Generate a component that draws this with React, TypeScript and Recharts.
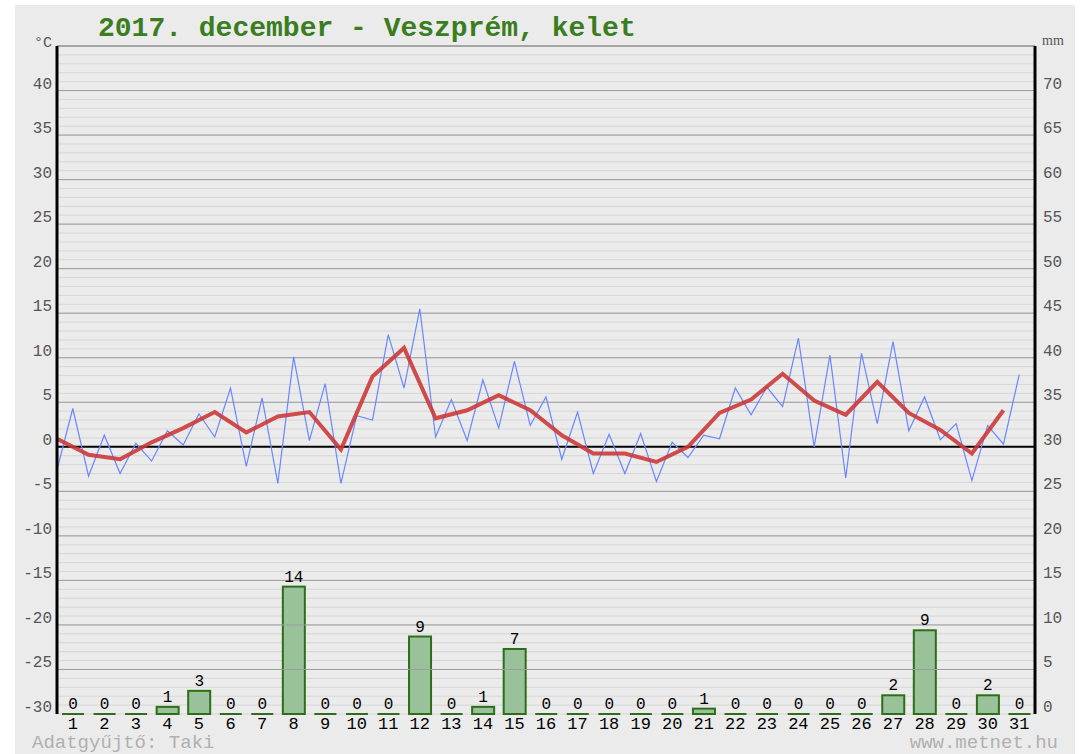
import { ComposedChart, Bar, Line, XAxis, YAxis, CartesianGrid, ReferenceLine, LabelList } from "recharts";

// Day numbers on the x axis
const dayLabels = Array.from({ length: 31 }, (_, i) => i + 1);

// Twice-daily temperature readings (°C), two per day
const halfDayTemp = [
  -2.6, 4.3, -3.3, 1.3, -3.0, 0.4, -1.6, 1.8, 0.2, 3.7,
  1.1, 6.6, -2.2, 5.5, -4.1, 10.1, 0.7, 7.1, -4.1, 3.5,
  3.0, 12.6, 6.6, 15.5, 1.1, 5.3, 0.7, 7.5, 2.1, 9.6,
  2.4, 5.6, -1.4, 3.9, -3.0, 1.4, -3.0, 1.5, -3.9, 0.5,
  -1.2, 1.3, 0.9, 6.6, 3.6, 6.7, 4.5, 12.2, 0.0, 10.3,
  -3.5, 10.5, 2.6, 11.8, 1.8, 5.6, 0.8, 2.6, -3.8, 2.4,
  0.3, 8.1,
];

// Daily mean temperature (°C)
const dailyMean = [
  0.9, -0.9, -1.4, 0.5, 2.1, 3.9, 1.6, 3.4, 3.9, -0.3,
  7.9, 11.1, 3.2, 4.1, 5.8, 4.1, 1.3, -0.75, -0.75, -1.7,
  0.0, 3.8, 5.3, 8.2, 5.2, 3.6, 7.3, 3.8, 1.9, -0.75, 4.1,
];

// Daily precipitation (mm)
const precipMm = [
  0, 0, 0, 0.8, 2.6, 0, 0, 14.3, 0, 0,
  0, 8.7, 0, 0.8, 7.3, 0, 0, 0, 0, 0,
  0.6, 0, 0, 0, 0, 0, 2.1, 9.4, 0, 2.1, 0,
];

const tempTicks = Array.from({ length: 76 }, (_, i) => i - 30);
const mmTicks = Array.from({ length: 16 }, (_, i) => i * 5);
const majorTemps = tempTicks.filter((v) => v % 5 === 0 && v !== 0 && v !== -30);

// bars sit in the middle of each day slot
const barRows = dayLabels.map((d, i) => ({ x: d - 0.5, p: precipMm[i] }));
// readings: two per day slot
const tempRows = halfDayTemp.map((t, i) => ({ x: i / 2, temp: t }));
// daily means: at the start of each day slot
const meanRows = dailyMean.map((m, i) => ({ x: i, mean: m }));

const MONO = "'Liberation Mono', 'Courier New', monospace";
const BAR_FILL = "#99c29a";
const BAR_STROKE = "#2f6e18";

const LeftTick = (props: any) => {
  const { x, y, payload } = props;
  const v = payload.value;
  if (v % 5 !== 0) return <g />;
  if (v === 45) {
    return (
      <text x={x} y={y + 1} textAnchor="end" fontSize={15} fontFamily={MONO} fill="#555">
        °C
      </text>
    );
  }
  return (
    <text x={x} y={y - 2} textAnchor="end" fontSize={16} fontFamily={MONO} fill="#555">
      {v}
    </text>
  );
};

const RightTick = (props: any) => {
  const { x, y, payload } = props;
  const v = payload.value;
  if (v === 75) {
    return (
      <text x={x - 1} y={y - 1} textAnchor="start" fontSize={14} fontFamily="'Liberation Serif', serif" fill="#555">
        mm
      </text>
    );
  }
  return (
    <text x={x} y={y - 2} textAnchor="start" fontSize={16} fontFamily={MONO} fill="#555">
      {v}
    </text>
  );
};

const BarShape = (props: any) => {
  const { x, y, width, height } = props;
  if (x == null || y == null || isNaN(y)) return null;
  if (!height || height < 1) {
    return <line x1={x} x2={x + width} y1={y} y2={y} stroke={BAR_STROKE} strokeWidth={2} />;
  }
  return <rect x={x} y={y} width={width} height={height} fill={BAR_FILL} stroke={BAR_STROKE} strokeWidth={2} />;
};

const BarLabel = (props: any) => {
  const { x, y, width, value } = props;
  if (value == null || isNaN(y)) return null;
  return (
    <text x={x + width / 2} y={y - 5} textAnchor="middle" fontSize={16} fontFamily={MONO} fill="#000">
      {Math.round(value)}
    </text>
  );
};

export default function App() {
  return (
    <div style={{ position: "absolute", left: 0, top: 0, width: 1082, height: 754, background: "#fff" }}>
      <div style={{ position: "absolute", left: 15, top: 5, width: 1060, height: 749, background: "#ebebeb" }} />
      <div style={{ position: "absolute", left: 0, top: 0 }}>
        <ComposedChart width={1082} height={754} data={barRows} margin={{ top: 46, right: 0, bottom: 10, left: 0 }}>
          <CartesianGrid xAxisId="bar" yAxisId="t" vertical={false} stroke="#d6d6d6" strokeWidth={1} />
          {majorTemps.map((v) => (
            <ReferenceLine key={v} xAxisId="bar" yAxisId="t" y={v} stroke="#9c9c9c" strokeWidth={1} />
          ))}
          <ReferenceLine xAxisId="bar" yAxisId="t" y={45} stroke="#9c9c9c" strokeWidth={1.5} />
          <XAxis
            xAxisId="bar"
            type="number"
            dataKey="x"
            domain={[0, 31]}
            ticks={dayLabels.map((d) => d - 0.5)}
            tickFormatter={(v: number) => String(v + 0.5)}
            interval={0}
            axisLine={false}
            tickLine={false}
            tickSize={0}
            tickMargin={3}
            height={30}
            tick={{ fill: "#000", fontSize: 17, fontFamily: MONO }}
          />
          <XAxis xAxisId="day" type="number" dataKey="x" domain={[0, 31]} height={0} hide />
          <YAxis
            yAxisId="t"
            domain={[-30, 45]}
            ticks={tempTicks}
            interval={0}
            width={57}
            tickSize={0}
            tickMargin={5}
            tickLine={false}
            axisLine={{ stroke: "#000", strokeWidth: 3 }}
            tick={LeftTick}
          />
          <YAxis
            yAxisId="mm"
            orientation="right"
            domain={[0, 75]}
            ticks={mmTicks}
            interval={0}
            width={47}
            tickSize={0}
            tickMargin={8}
            tickLine={false}
            axisLine={{ stroke: "#000", strokeWidth: 3 }}
            tick={RightTick}
          />
          <ReferenceLine xAxisId="bar" yAxisId="t" y={0} stroke="#000" strokeWidth={2} />
          <Bar xAxisId="bar" yAxisId="mm" dataKey="p" barSize={22} shape={BarShape} isAnimationActive={false}>
            <LabelList dataKey="p" content={BarLabel} />
          </Bar>
          <Line
            xAxisId="day"
            yAxisId="t"
            data={tempRows}
            dataKey="temp"
            type="linear"
            stroke="#6a87ff"
            strokeWidth={1.2}
            dot={false}
            activeDot={false}
            isAnimationActive={false}
          />
          <Line
            xAxisId="day"
            yAxisId="t"
            data={meanRows}
            dataKey="mean"
            type="linear"
            stroke="#cc3434"
            strokeOpacity={0.88}
            strokeWidth={4}
            dot={false}
            activeDot={false}
            isAnimationActive={false}
          />
        </ComposedChart>
      </div>
      <svg width={1082} height={754} style={{ position: "absolute", left: 0, top: 0, pointerEvents: "none" }}>
        <text x={98} y={36} fontSize={28} fontWeight="bold" fontFamily={MONO} fill="#3a7d1e">
          2017. december - Veszprém, kelet
        </text>
        <text x={32} y={748} fontSize={19} fontFamily={MONO} fill="#b0b0b0">
          Adatgyűjtő: Taki
        </text>
        <text x={1058} y={748} textAnchor="end" fontSize={19} fontFamily={MONO} fill="#b0b0b0">
          www.metnet.hu
        </text>
      </svg>
    </div>
  );
}
